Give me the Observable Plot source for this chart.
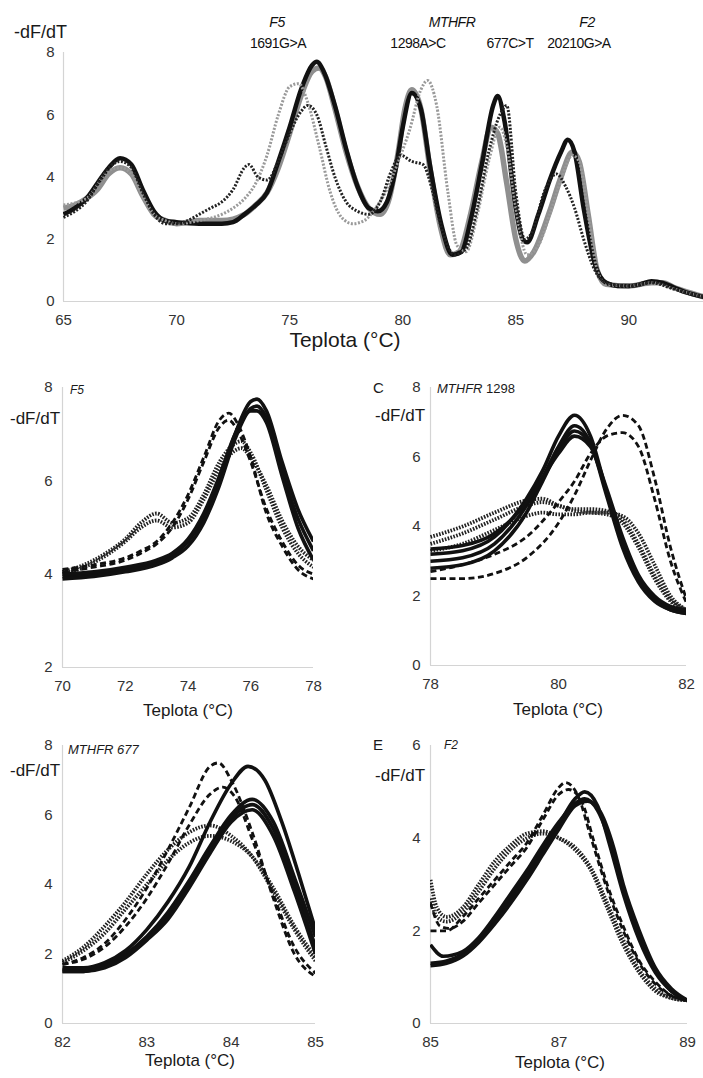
<!DOCTYPE html>
<html><head><meta charset="utf-8">
<script src="https://cdn.jsdelivr.net/npm/d3@7"></script>
<script src="https://cdn.jsdelivr.net/npm/@observablehq/plot@0.6"></script>
<style>
body{margin:0;background:#fff;}
#root{position:relative;width:703px;height:1078px;overflow:hidden;font-family:"Liberation Sans",Arial,sans-serif;color:#1a1a1a;background:#fff;}
.p{position:absolute;}
.t{position:absolute;white-space:nowrap;line-height:1;}
</style></head><body><div id="root"></div>
<script>
// ---------- DATA ----------
// Top panel: multiplex melting curves, [temperature °C, -dF/dT]
const topGraySolid = [[65,3.0],[65.5,3.1],[66,3.3],[66.5,3.6],[67,4.1],[67.5,4.3],[68,4.1],[68.5,3.4],[69,2.8],[69.5,2.6],[70,2.5],[71,2.6],[72,2.6],[73,2.8],[73.5,3.1],[74,3.5],[74.5,4.3],[75,5.4],[75.5,6.6],[76,7.4],[76.3,7.5],[76.6,7.2],[77,6.2],[77.5,4.8],[78,3.7],[78.5,3.0],[79,2.8],[79.4,3.3],[79.8,4.8],[80.1,6.2],[80.4,6.8],[80.8,6.2],[81.2,4.3],[81.7,2.3],[82.1,1.5],[82.5,1.6],[83,2.8],[83.5,4.5],[83.9,5.6],[84.2,5.4],[84.6,3.8],[85,2.0],[85.4,1.3],[85.8,1.6],[86.5,2.9],[87,4.0],[87.5,4.8],[87.8,4.5],[88.2,2.8],[88.6,1.0],[89,0.55],[90,0.5],[91,0.6],[91.5,0.6],[92,0.45],[92.6,0.3],[93.3,0.15]];
const topBlackSolid = [[65,2.8],[65.5,3.0],[66,3.3],[66.5,3.8],[67,4.3],[67.5,4.6],[68,4.4],[68.5,3.6],[69,2.9],[69.5,2.6],[70,2.55],[71,2.5],[72,2.5],[72.5,2.55],[73,2.8],[73.5,3.1],[74,3.5],[74.5,4.5],[75,5.6],[75.5,6.8],[76,7.6],[76.2,7.7],[76.5,7.4],[77,6.3],[77.5,4.9],[78,3.7],[78.5,3.0],[78.9,2.9],[79.3,3.2],[79.7,4.3],[80,5.6],[80.4,6.7],[80.8,6.2],[81.2,4.4],[81.7,2.5],[82.2,1.5],[82.6,1.6],[83,2.6],[83.5,4.4],[84,6.3],[84.2,6.6],[84.5,5.8],[85,3.0],[85.3,2.0],[85.5,1.9],[86,2.8],[86.5,3.9],[87,4.8],[87.3,5.2],[87.6,4.8],[88,3.0],[88.5,1.2],[89,0.6],[89.5,0.5],[90,0.5],[90.5,0.55],[91,0.65],[91.5,0.6],[92,0.45],[92.5,0.3],[93.3,0.15]];
const topBlackDotted = [[65,2.7],[66,3.2],[67,4.3],[67.5,4.5],[68,4.3],[68.5,3.5],[69,2.8],[69.5,2.5],[70,2.5],[70.5,2.6],[71,2.8],[71.5,3.0],[72,3.2],[72.5,3.6],[73,4.3],[73.2,4.4],[73.6,4.0],[74,3.9],[74.5,4.5],[75,5.4],[75.5,6.1],[75.8,6.3],[76.2,6.0],[76.6,5.0],[77,4.0],[77.5,3.2],[78,2.9],[78.5,2.8],[79,3.2],[79.5,4.2],[79.9,4.7],[80.4,4.5],[80.9,4.4],[81.3,3.6],[81.7,2.4],[82.3,1.5],[82.8,1.7],[83.3,3.0],[83.8,4.8],[84.3,6.0],[84.6,6.3],[85,3.5],[85.4,2.0],[85.7,2.2],[86.3,3.6],[86.8,4.1],[87.2,3.7],[87.6,3.0],[88,2.0],[88.5,1.0],[89,0.6],[90,0.5],[91,0.6],[92,0.4],[93.3,0.15]];
const topGrayDotted = [[65,3.1],[66,3.3],[67,4.2],[67.5,4.3],[68,4.1],[68.5,3.4],[69,2.8],[69.5,2.6],[70,2.5],[71,2.6],[72,2.8],[72.5,3.0],[73,3.3],[73.5,3.8],[74,4.7],[74.5,6.0],[75,6.9],[75.4,7.0],[75.8,6.4],[76.3,5.0],[76.8,3.5],[77.3,2.7],[77.8,2.5],[78.3,2.6],[78.8,3.0],[79.3,3.6],[79.8,4.5],[80.3,5.5],[80.8,6.8],[81.1,7.1],[81.5,6.3],[82,3.5],[82.4,1.8],[82.8,1.6],[83.3,2.8],[83.8,4.5],[84.3,5.6],[84.6,5.0],[85,3.0],[85.5,1.5],[86,1.8],[86.5,2.8],[87,3.9],[87.5,4.7],[87.8,4.5],[88.2,2.8],[88.6,1.0],[89,0.55],[90,0.5],[91,0.6],[92,0.4],[93.3,0.15]];

// Panel F5 (70–78 °C)
const f5Wt1 = [[70,3.95],[71,4.0],[72,4.1],[73,4.25],[73.5,4.4],[74,4.7],[74.5,5.2],[75,6.0],[75.5,7.0],[76,7.7],[76.2,7.75],[76.5,7.5],[77,6.4],[77.5,5.4],[78,4.7]];
const f5Wt2 = [[70,3.9],[71,3.95],[72,4.05],[73,4.2],[73.5,4.35],[74,4.6],[74.5,5.1],[75,5.9],[75.5,6.9],[76,7.55],[76.2,7.6],[76.5,7.35],[77,6.2],[77.5,5.2],[78,4.5]];
const f5Wt3 = [[70,4.0],[71,4.05],[72,4.15],[73,4.3],[73.5,4.45],[74,4.75],[74.5,5.3],[75,6.1],[75.5,7.0],[76,7.5],[76.2,7.5],[76.5,7.25],[77,6.1],[77.5,5.0],[78,4.3]];
const f5Mt1 = [[70,4.1],[71,4.2],[72,4.35],[72.5,4.5],[73,4.7],[73.5,5.1],[74,5.7],[74.5,6.5],[75,7.3],[75.3,7.45],[75.6,7.2],[76,6.5],[76.5,5.3],[77,4.6],[77.5,4.1],[78,3.9]];
const f5Mt2 = [[70,4.05],[71,4.15],[72,4.3],[72.5,4.45],[73,4.65],[73.5,5.0],[74,5.6],[74.5,6.4],[75,7.15],[75.3,7.3],[75.6,7.05],[76,6.4],[76.5,5.4],[77,4.7],[77.5,4.2],[78,4.0]];
const f5Het1 = [[70,4.05],[70.5,4.15],[71,4.3],[71.5,4.5],[72,4.75],[72.5,5.1],[73,5.3],[73.5,5.1],[74,5.2],[74.5,5.7],[75,6.4],[75.5,6.8],[75.7,6.85],[76,6.6],[76.5,5.8],[77,5.0],[77.5,4.45],[78,4.15]];
const f5Het2 = [[70,4.0],[70.5,4.1],[71,4.25],[71.5,4.45],[72,4.7],[72.5,5.0],[73,5.15],[73.5,5.0],[74,5.1],[74.5,5.6],[75,6.25],[75.5,6.65],[75.7,6.7],[76,6.5],[76.5,5.9],[77,5.15],[77.5,4.6],[78,4.3]];

// Panel MTHFR 1298 (78–82 °C)
const m1298Wt1 = [[78,3.2],[78.5,3.3],[79,3.7],[79.5,4.8],[79.75,5.6],[80,6.6],[80.25,7.2],[80.5,6.6],[80.75,5.0],[81,3.5],[81.25,2.5],[81.5,1.9],[81.75,1.65],[82,1.55]];
const m1298Wt2 = [[78,3.0],[78.5,3.1],[79,3.5],[79.5,4.6],[79.75,5.4],[80,6.3],[80.25,6.9],[80.5,6.4],[80.75,4.9],[81,3.4],[81.25,2.4],[81.5,1.85],[81.75,1.6],[82,1.5]];
const m1298Wt3 = [[78,2.8],[78.5,2.9],[79,3.3],[79.5,4.4],[79.75,5.3],[80,6.2],[80.25,6.75],[80.5,6.35],[80.75,5.0],[81,3.5],[81.25,2.5],[81.5,1.9],[81.75,1.6],[82,1.5]];
const m1298Wt4 = [[78,3.35],[78.5,3.45],[79,3.8],[79.5,4.7],[79.75,5.4],[80,6.1],[80.25,6.6],[80.5,6.3],[80.75,5.1],[81,3.7],[81.25,2.6],[81.5,2.0],[81.75,1.7],[82,1.6]];
const m1298Het1 = [[78,3.7],[78.5,4.0],[79,4.4],[79.5,4.75],[79.75,4.8],[80,4.6],[80.25,4.5],[80.5,4.5],[80.75,4.45],[81,4.2],[81.25,3.5],[81.5,2.6],[81.75,1.9],[82,1.6]];
const m1298Het2 = [[78,3.5],[78.5,3.8],[79,4.2],[79.5,4.6],[79.75,4.7],[80,4.6],[80.25,4.45],[80.5,4.4],[80.75,4.35],[81,4.1],[81.25,3.4],[81.5,2.5],[81.75,1.85],[82,1.55]];
const m1298Het3 = [[78,3.3],[78.5,3.5],[79,3.9],[79.5,4.3],[79.75,4.4],[80,4.35],[80.25,4.35],[80.5,4.4],[80.75,4.4],[81,4.3],[81.25,3.8],[81.5,2.9],[81.75,2.0],[82,1.6]];
const m1298Mt1 = [[78,2.5],[78.5,2.5],[79,2.65],[79.5,3.1],[80,4.1],[80.25,4.9],[80.5,5.9],[80.75,6.8],[81,7.2],[81.25,6.9],[81.5,5.4],[81.75,3.4],[82,1.9]];
const m1298Mt2 = [[78,2.7],[78.5,2.9],[79,3.2],[79.5,3.7],[80,4.7],[80.25,5.3],[80.5,6.1],[80.75,6.6],[81,6.7],[81.25,6.3],[81.5,4.8],[81.75,3.0],[82,1.8]];

// Panel MTHFR 677 (82–85 °C)
const m677Wt1 = [[82,1.6],[82.25,1.6],[82.5,1.75],[82.75,2.1],[83,2.7],[83.25,3.5],[83.5,4.5],[83.75,5.8],[84,6.9],[84.2,7.4],[84.4,7.0],[84.6,5.8],[84.8,4.3],[85,2.7]];
const m677Wt2 = [[82,1.55],[82.25,1.55],[82.5,1.7],[82.75,2.0],[83,2.5],[83.25,3.2],[83.5,4.1],[83.75,5.1],[84,6.0],[84.25,6.45],[84.5,5.8],[84.75,4.2],[85,2.5]];
const m677Wt3 = [[82,1.5],[82.25,1.5],[82.5,1.65],[82.75,1.95],[83,2.45],[83.25,3.1],[83.5,4.0],[83.75,5.0],[84,5.9],[84.25,6.3],[84.5,5.6],[84.75,4.0],[85,2.2]];
const m677Wt4 = [[82,1.5],[82.25,1.5],[82.5,1.6],[82.75,1.9],[83,2.4],[83.25,3.0],[83.5,3.9],[83.75,4.9],[84,5.8],[84.25,6.15],[84.5,5.4],[84.75,3.8],[85,2.0]];
const m677Mt1 = [[82,1.7],[82.25,1.9],[82.5,2.3],[82.75,3.0],[83,3.9],[83.25,5.0],[83.5,6.2],[83.75,7.4],[83.85,7.5],[84,7.0],[84.25,5.5],[84.5,3.6],[84.75,2.0],[85,1.35]];
const m677Mt2 = [[82,1.7],[82.25,1.85],[82.5,2.2],[82.75,2.8],[83,3.6],[83.25,4.6],[83.5,5.7],[83.75,6.6],[83.9,6.8],[84.05,6.5],[84.25,5.3],[84.5,3.7],[84.75,2.2],[85,1.45]];
const m677Het1 = [[82,1.8],[82.25,2.2],[82.5,2.8],[82.75,3.5],[83,4.3],[83.25,5.0],[83.5,5.5],[83.75,5.7],[84,5.4],[84.25,4.8],[84.5,3.8],[84.75,2.7],[85,1.8]];
const m677Het2 = [[82,1.75],[82.25,2.1],[82.5,2.6],[82.75,3.3],[83,4.0],[83.25,4.7],[83.5,5.2],[83.75,5.4],[84,5.25],[84.25,4.8],[84.5,3.9],[84.75,2.8],[85,1.9]];

// Panel F2 (85–89 °C)
const f2Wt1 = [[85,1.3],[85.25,1.35],[85.5,1.5],[85.75,1.8],[86,2.2],[86.25,2.7],[86.5,3.2],[86.75,3.75],[87,4.3],[87.25,4.85],[87.4,5.0],[87.6,4.7],[87.8,3.8],[88,2.8],[88.25,1.8],[88.5,1.1],[88.75,0.7],[89,0.5]];
const f2Wt2 = [[85,1.7],[85.2,1.45],[85.5,1.55],[85.75,1.85],[86,2.3],[86.25,2.8],[86.5,3.3],[86.75,3.85],[87,4.35],[87.25,4.75],[87.4,4.85],[87.6,4.6],[87.8,3.9],[88,2.9],[88.25,1.9],[88.5,1.15],[88.75,0.7],[89,0.5]];
const f2Wt3 = [[85,1.25],[85.25,1.3],[85.5,1.45],[85.75,1.75],[86,2.15],[86.25,2.6],[86.5,3.1],[86.75,3.65],[87,4.2],[87.25,4.7],[87.45,4.8],[87.65,4.55],[87.85,3.8],[88,3.0],[88.25,2.0],[88.5,1.2],[88.75,0.75],[89,0.5]];
const f2Mt1 = [[85,2.0],[85.25,2.0],[85.5,2.3],[85.75,2.7],[86,3.1],[86.25,3.5],[86.5,3.9],[86.75,4.5],[87,5.1],[87.1,5.2],[87.3,4.9],[87.5,4.0],[87.75,2.9],[88,2.0],[88.25,1.3],[88.5,0.85],[88.75,0.6],[89,0.5]];
const f2Mt2 = [[85,2.6],[85.15,2.1],[85.3,2.05],[85.5,2.2],[85.75,2.6],[86,3.0],[86.25,3.4],[86.5,3.8],[86.75,4.4],[87,4.95],[87.15,5.05],[87.35,4.8],[87.55,3.9],[87.75,3.0],[88,2.1],[88.25,1.35],[88.5,0.9],[88.75,0.6],[89,0.5]];
const f2Het1 = [[85,3.1],[85.1,2.5],[85.25,2.3],[85.5,2.5],[85.75,3.0],[86,3.5],[86.25,3.85],[86.5,4.1],[86.75,4.15],[87,4.0],[87.25,3.75],[87.5,3.3],[87.75,2.5],[88,1.7],[88.25,1.1],[88.5,0.7],[88.75,0.55],[89,0.5]];
const f2Het2 = [[85,2.7],[85.1,2.3],[85.25,2.2],[85.5,2.4],[85.75,2.85],[86,3.35],[86.25,3.75],[86.5,4.0],[86.75,4.1],[87,4.0],[87.25,3.8],[87.5,3.35],[87.75,2.6],[88,1.8],[88.25,1.15],[88.5,0.75],[88.75,0.55],[89,0.5]];

// Axis ticks
const topXTicks = [65,70,75,80,85,90];
const topYTicks = [0,2,4,6,8];
const f5XTicks = [70,72,74,76,78], f5YTicks = [2,4,6,8];
const m1298XTicks = [78,80,82], m1298YTicks = [0,2,4,6,8];
const m677XTicks = [82,83,84,85], m677YTicks = [0,2,4,6,8];
const f2XTicks = [85,87,89], f2YTicks = [0,2,4,6];

// ---------- STYLES ----------
const S = {
  blackSolid: {stroke:"#111", strokeWidth:4.5},
  graySolid: {stroke:"#8f8f8f", strokeWidth:5.5},
  blackDot: {stroke:"#222", strokeWidth:3, strokeDasharray:"2,1.6"},
  grayDot: {stroke:"#9a9a9a", strokeWidth:3, strokeDasharray:"2,1.6"},
  wt: {stroke:"#111", strokeWidth:3.6},
  mt: {stroke:"#111", strokeWidth:2.8, strokeDasharray:"6,3.5"},
  het: {stroke:"#222", strokeWidth:3.8, strokeDasharray:"1.6,1.4"}
};

const root = document.getElementById("root");
const FONT = "'Liberation Sans', Arial, sans-serif";

function panel(o) {
  const marks = [
    Plot.ruleX([o.xd[0]], {stroke:"#d4d4d4", strokeWidth:1.2}),
    Plot.ruleY([o.yd[0]], {stroke:"#d4d4d4", strokeWidth:1.2}),
    Plot.axisX({ticks:o.xt, tickSize:0, tickPadding:o.xpad ?? 12, tickFormat:d=>String(d), fill:"#333"}),
    Plot.axisY({ticks:o.yt, tickSize:0, tickPadding:o.ypad ?? 8, tickFormat:d=>String(d), fill:"#333"}),
    ...o.series.map(s => Plot.line(s.pts, {x:d=>d[0], y:d=>d[1], curve:"monotone-x", strokeLinejoin:"round", strokeLinecap:"butt", clip:true, ...s.style}))
  ];
  const svg = Plot.plot({
    width:o.w, height:o.h,
    marginLeft:o.ml, marginRight:o.mr, marginTop:o.mt, marginBottom:o.mb,
    x:{domain:o.xd, axis:null},
    y:{domain:o.yd, axis:null},
    style:{fontSize:(o.fs||15)+"px", fontFamily:FONT, background:"transparent", overflow:"visible"},
    marks
  });
  const d = document.createElement("div");
  d.className = "p";
  d.style.left = o.left+"px"; d.style.top = o.top+"px";
  d.appendChild(svg);
  root.appendChild(d);
}

// Top panel
panel({left:0, top:0, w:703, h:335, ml:63, mr:0, mt:52, mb:34,
  xd:[65,93.3], yd:[0,8], xt:topXTicks, yt:topYTicks, xpad:13, ypad:9,
  series:[
    {pts:topGraySolid, style:S.graySolid},
    {pts:topBlackSolid, style:S.blackSolid},
    {pts:topGrayDotted, style:S.grayDot},
    {pts:topBlackDotted, style:S.blackDot}
  ]});

// F5 panel
panel({left:0, top:360, w:330, h:340, ml:62, mr:17, mt:27, mb:33,
  xd:[70,78], yd:[2,8], xt:f5XTicks, yt:f5YTicks, xpad:13, ypad:10,
  series:[f5Het1,f5Het2].map(p=>({pts:p, style:S.het}))
    .concat([f5Mt1,f5Mt2].map(p=>({pts:p, style:S.mt})))
    .concat([f5Wt1,f5Wt2,f5Wt3].map(p=>({pts:p, style:S.wt})))});

// MTHFR 1298 panel
panel({left:340, top:360, w:363, h:340, ml:90, mr:17, mt:27, mb:35,
  xd:[78,82], yd:[0,8], xt:m1298XTicks, yt:m1298YTicks, xpad:13, ypad:10,
  series:[m1298Het1,m1298Het2,m1298Het3].map(p=>({pts:p, style:S.het}))
    .concat([m1298Mt1,m1298Mt2].map(p=>({pts:p, style:S.mt})))
    .concat([m1298Wt1,m1298Wt2,m1298Wt3,m1298Wt4].map(p=>({pts:p, style:S.wt})))});

// MTHFR 677 panel
panel({left:0, top:720, w:330, h:330, ml:62, mr:15, mt:25, mb:27,
  xd:[82,85], yd:[0,8], xt:m677XTicks, yt:m677YTicks, xpad:13, ypad:10,
  series:[m677Het1,m677Het2].map(p=>({pts:p, style:S.het}))
    .concat([m677Mt1,m677Mt2].map(p=>({pts:p, style:S.mt})))
    .concat([m677Wt1,m677Wt2,m677Wt3,m677Wt4].map(p=>({pts:p, style:S.wt})))});

// F2 panel
panel({left:340, top:720, w:363, h:330, ml:90, mr:16, mt:25, mb:27,
  xd:[85,89], yd:[0,6], xt:f2XTicks, yt:f2YTicks, xpad:13, ypad:10,
  series:[f2Het1,f2Het2].map(p=>({pts:p, style:S.het}))
    .concat([f2Mt1,f2Mt2].map(p=>({pts:p, style:S.mt})))
    .concat([f2Wt1,f2Wt2,f2Wt3].map(p=>({pts:p, style:S.wt})))});

// ---------- TEXT ----------
function label(html, x, y, size, anchor, extra) {
  const d = document.createElement("div");
  d.className = "t";
  d.innerHTML = html;
  d.style.left = x+"px"; d.style.top = y+"px";
  d.style.fontSize = size+"px";
  const tx = anchor==="middle" ? "-50%" : anchor==="end" ? "-100%" : "0";
  d.style.transform = `translate(${tx},-50%)`;
  if (extra) Object.assign(d.style, extra);
  root.appendChild(d);
}
const narrow = {letterSpacing:"-0.5px", color:"#111"};
label("-dF/dT", 14, 32, 18, "start");
label("<i>F5</i>", 277, 22, 14, "middle", narrow);
label("1691G&gt;A", 278, 43, 14, "middle", narrow);
label("<i>MTHFR</i>", 452, 22, 14, "middle", narrow);
label("1298A&gt;C", 418, 43, 14, "middle", narrow);
label("677C&gt;T", 510, 43, 14, "middle", narrow);
label("<i>F2</i>", 587, 22, 14, "middle", narrow);
label("20210G&gt;A", 579, 43, 14, "middle", narrow);
label("Teplota (°C)", 345, 339, 21, "middle");

label("-dF/dT", 10, 418, 17, "start");
label("<i>F5</i>", 70, 390, 12, "start");
label("Teplota (°C)", 188, 710, 17, "middle");

label("C", 373, 387, 15, "start");
label("-dF/dT", 375, 415, 17, "start");
label("<i>MTHFR</i> 1298", 437, 388, 13, "start");
label("Teplota (°C)", 558, 709, 17, "middle");

label("<i>MTHFR 677</i>", 68, 749, 13, "start");
label("-dF/dT", 10, 770, 17, "start");
label("Teplota (°C)", 190, 1060, 17, "middle");

label("E", 373, 744, 15, "start");
label("<i>F2</i>", 444, 745, 12, "start");
label("-dF/dT", 375, 775, 17, "start");
label("Teplota (°C)", 560, 1062, 17, "middle");
</script></body></html>
